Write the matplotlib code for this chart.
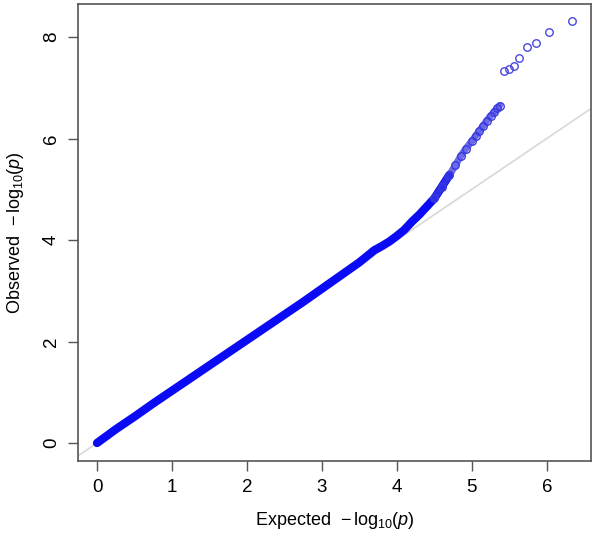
import matplotlib
matplotlib.use("Agg")
import matplotlib.pyplot as plt

plt.rcParams['font.family'] = ['Liberation Sans', 'DejaVu Sans']
plt.rcParams['mathtext.fontset'] = 'custom'
plt.rcParams['mathtext.rm'] = 'Liberation Sans'
plt.rcParams['mathtext.it'] = 'Liberation Sans:italic'

# Dense part of the QQ curve (expected, observed)
dense_expected = [0.0, 0.25, 0.5, 0.75, 1.0, 1.25, 1.5, 1.75, 2.0, 2.25, 2.5, 2.75,
                  3.0, 3.25, 3.5, 3.6, 3.7, 3.8, 3.9, 4.0, 4.1, 4.2, 4.3, 4.4,
                  4.5, 4.6, 4.7, 4.78, 4.85, 4.92, 5.0, 5.05, 5.1, 5.15, 5.2,
                  5.25, 5.3, 5.34, 5.37]
dense_observed = [0.0, 0.27, 0.52, 0.78, 1.03, 1.28, 1.53, 1.78, 2.03, 2.28, 2.53, 2.78,
                  3.04, 3.30, 3.56, 3.68, 3.80, 3.88, 3.97, 4.08, 4.20, 4.36, 4.50, 4.66,
                  4.82, 5.05, 5.28, 5.47, 5.65, 5.80, 5.95, 6.05, 6.15, 6.25, 6.35,
                  6.45, 6.52, 6.60, 6.65]

# Sparse top hits
tail_expected = [5.43, 5.49, 5.56, 5.63, 5.73, 5.85, 6.03, 6.33]
tail_observed = [7.33, 7.37, 7.42, 7.59, 7.81, 7.88, 8.09, 8.31]

x_ticks = [0, 1, 2, 3, 4, 5, 6]
y_ticks = [0, 2, 4, 6, 8]

fig = plt.figure(figsize=(6.0, 5.37), dpi=100)
ax = fig.add_axes([0.13, 0.1415, 0.855, 0.851])

ax.plot([-1, 10], [-1, 10], color='#d8d8d8', lw=1.2, zorder=1)

blue = '#0a0af5'
circ = '#3a3ae0'
ax.plot(dense_expected[:27], dense_observed[:27], color=blue, lw=6.0,
        solid_capstyle='round', zorder=2)
ax.plot(dense_expected[24:], dense_observed[24:], color=circ, lw=5.0,
        solid_capstyle='round', alpha=0.75, zorder=2)
ax.plot(dense_expected[24:], dense_observed[24:], linestyle='none', marker='o',
        markersize=5.4, markerfacecolor='none', markeredgecolor=circ, markeredgewidth=1.0, zorder=3)
ax.plot(tail_expected, tail_observed, linestyle='none', marker='o',
        markersize=5.4, markerfacecolor='none', markeredgecolor='#4848dd', markeredgewidth=1.0, zorder=3)

ax.set_xlim(-0.254, 6.59)
ax.set_ylim(-0.355, 8.65)
ax.set_xticks(x_ticks)
ax.set_yticks(y_ticks)
ax.set_xticklabels([str(v) for v in x_ticks], fontsize=13.5)
ax.set_yticklabels([str(v) for v in y_ticks], fontsize=13.5, rotation=90, va='center')
ax.tick_params(length=7, width=1.0, color='#555555', pad=6)
for s in ax.spines.values():
    s.set_color('#555555')
    s.set_linewidth(1.2)

ax.set_xlabel(r'Expected  $-\,\mathrm{log}_{10}(\mathit{p})$', fontsize=13, labelpad=10)
ax.set_ylabel(r'Observed  $-\,\mathrm{log}_{10}(\mathit{p})$', fontsize=13, labelpad=12)

fig.savefig('out.png', dpi=100)
